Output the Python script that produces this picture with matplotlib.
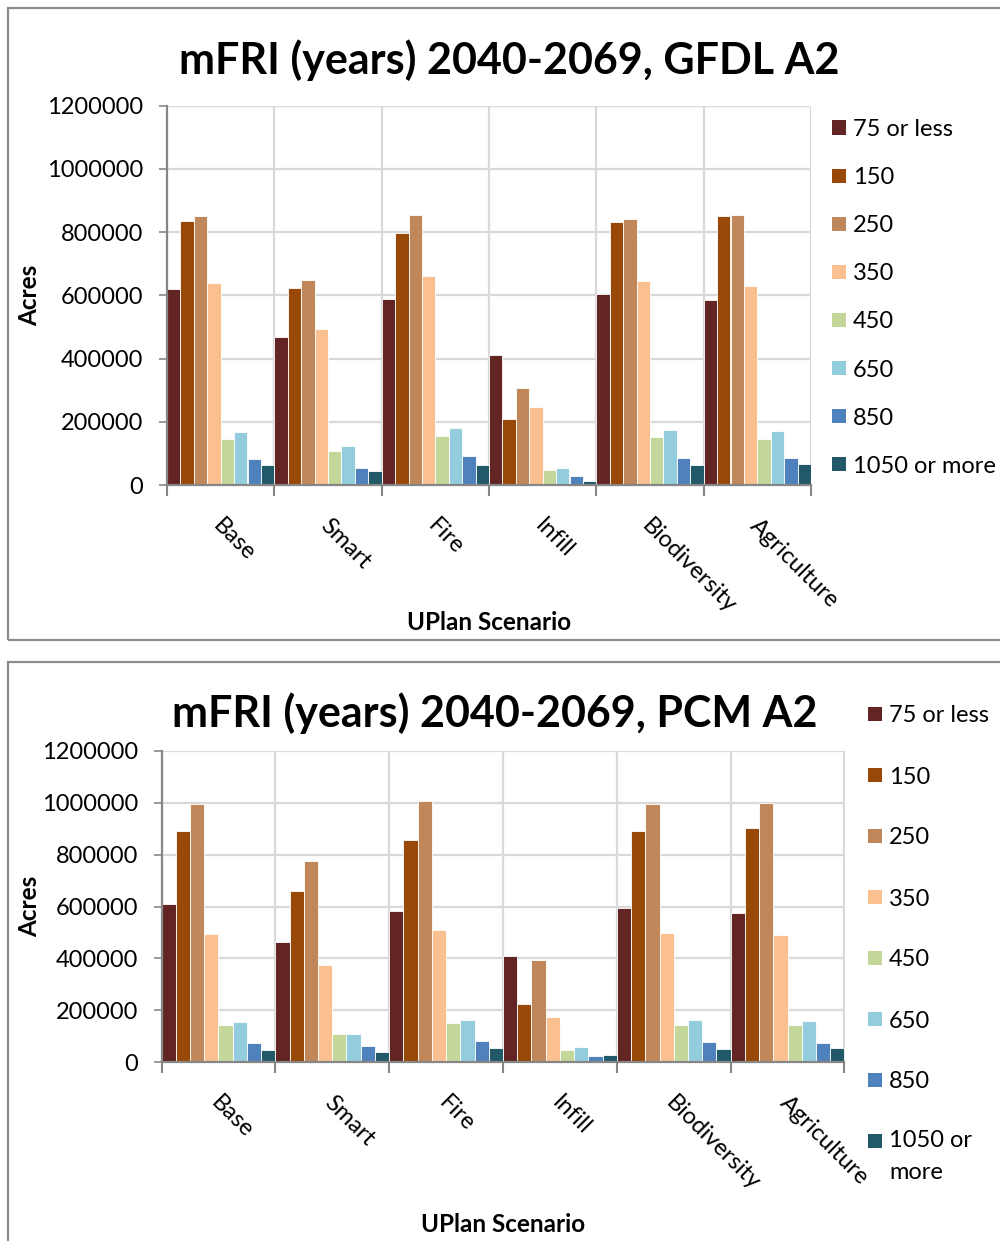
import matplotlib
matplotlib.use("Agg")
import matplotlib.pyplot as plt
from matplotlib.patches import Rectangle
import numpy as np

plt.rcParams['font.family'] = ['Lato', 'DejaVu Sans']

scenarios = ["Base", "Smart", "Fire", "Infill", "Biodiversity", "Agriculture"]
series_names = ["75 or less", "150", "250", "350", "450", "650", "850", "1050 or more"]
series_names_wrapped = ["75 or less", "150", "250", "350", "450", "650", "850", "1050 or\nmore"]
colors = ['#632523', '#984807', '#C0885A', '#FAC090', '#C4D79B', '#93CDDD', '#4F81BD', '#215968']

# GFDL A2 (acres)
gfdl_75 = [619000, 469600, 589000, 411000, 603000, 585000]
gfdl_150 = [834000, 622000, 796000, 207600, 833000, 852000]
gfdl_250 = [851000, 647700, 854000, 307400, 842600, 855000]
gfdl_350 = [639000, 495000, 661000, 248000, 645500, 629600]
gfdl_450 = [147000, 109000, 155800, 48700, 152600, 146000]
gfdl_650 = [167500, 123000, 179000, 54000, 174000, 171700]
gfdl_850 = [83600, 54000, 91200, 28600, 86800, 85900]
gfdl_1050 = [62600, 43500, 62600, 12700, 63600, 65800]

# PCM A2 (acres)
pcm_75 = [610500, 464000, 581000, 408700, 593800, 574600]
pcm_150 = [889500, 660700, 854800, 223600, 889500, 902300]
pcm_250 = [993600, 776300, 1007700, 394600, 993600, 1000000]
pcm_350 = [494900, 374000, 507700, 173500, 498700, 489700]
pcm_450 = [142700, 108000, 150400, 46300, 144000, 144000]
pcm_650 = [156800, 108000, 163200, 60400, 162000, 158100]
pcm_850 = [74600, 63000, 82300, 24400, 78400, 75800]
pcm_1050 = [46300, 38600, 54000, 27000, 51400, 54000]

yticks = [0, 200000, 400000, 600000, 800000, 1000000, 1200000]

gfdl = [gfdl_75, gfdl_150, gfdl_250, gfdl_350, gfdl_450, gfdl_650, gfdl_850, gfdl_1050]
pcm = [pcm_75, pcm_150, pcm_250, pcm_350, pcm_450, pcm_650, pcm_850, pcm_1050]

W, H = 1000, 1241
fig = plt.figure(figsize=(W / 100, H / 100), dpi=100)
fig.patch.set_facecolor('white')


def fx(px):
    return px / W


def fy(py):
    return 1 - py / H


# panel borders
for (x0, y0, x1, y1) in [(8, 8, 1010, 640), (8, 662, 1010, 1260)]:
    fig.patches.append(Rectangle((fx(x0), fy(y1)), fx(x1 - x0), (y1 - y0) / H,
                                 transform=fig.transFigure, fill=False,
                                 edgecolor='#8C8C8C', linewidth=1.6, zorder=0))

GRID = '#D9D9D9'
AX = '#868686'


def draw_panel(box, data, title, title_xy, xlabel_xy, ylabel_xy, legend, tick_off):
    x0, y0, x1, y1 = box
    ax = fig.add_axes([fx(x0), fy(y1), fx(x1 - x0), (y1 - y0) / H])
    n = len(data)
    width = 1.0 / n
    xs = np.arange(len(scenarios))
    for i, vals in enumerate(data):
        ax.bar(xs - 0.5 + (i + 0.5) * width, vals, width=width, color=colors[i],
               edgecolor='white', linewidth=0.6, zorder=3)
    ax.set_xlim(-0.5, len(scenarios) - 0.5)
    ax.set_ylim(0, 1200000)
    ax.set_yticks(yticks)
    ax.set_yticklabels([str(v) for v in yticks], fontsize=17)
    ax.tick_params(axis='y', length=6, color=AX, width=1.2, pad=11)
    for v in yticks[1:]:
        ax.axhline(v, color=GRID, lw=1.6, zorder=1)
    bounds = np.arange(-0.5, len(scenarios) + 0.5, 1.0)
    for b in bounds[1:]:
        ax.axvline(b, color=GRID, lw=1.6, zorder=1)
    ax.set_xticks(bounds)
    ax.set_xticklabels([])
    ax.tick_params(axis='x', length=8, color=AX, width=1.5)
    for s in ['top', 'right']:
        ax.spines[s].set_visible(False)
    for s in ['left', 'bottom']:
        ax.spines[s].set_color(AX)
        ax.spines[s].set_linewidth(1.6)
        ax.spines[s].set_zorder(4)
    for i, lab in enumerate(scenarios):
        ax.text(i + 0.03, tick_off, lab, transform=ax.get_xaxis_transform(),
                rotation=-45, rotation_mode='anchor', ha='left', va='top',
                fontsize=17)
    fig.text(fx(title_xy[0]), fy(title_xy[1]), title, ha='center', va='center',
             fontsize=31, fontweight='bold')
    fig.text(fx(xlabel_xy[0]), fy(xlabel_xy[1]), "UPlan Scenario", ha='center',
             va='center', fontsize=17.5, fontweight='bold')
    fig.text(fx(ylabel_xy[0]), fy(ylabel_xy[1]), "Acres", ha='center',
             va='center', fontsize=17.5, fontweight='bold', rotation=90)
    # legend
    lx, ly0, step, labels = legend
    for i, lab in enumerate(labels):
        cy = ly0 + i * step
        fig.patches.append(Rectangle((fx(lx), fy(cy + 7)), fx(14), 14 / H,
                                     transform=fig.transFigure, facecolor=colors[i],
                                     edgecolor='none'))
        if '\n' in lab:
            fig.text(fx(lx + 21), fy(cy - 11), lab, ha='left', va='top',
                     fontsize=17, linespacing=1.65)
        else:
            fig.text(fx(lx + 21), fy(cy), lab, ha='left', va='center_baseline',
                     fontsize=17)
    return ax


draw_panel((167, 105.7, 811, 485), gfdl, "mFRI (years) 2040-2069, GFDL A2",
           (509, 60), (489, 622), (30, 295),
           (832, 127.5, 48.1, series_names), -0.08)

draw_panel((161.5, 750.7, 844.5, 1062.3), pcm, "mFRI (years) 2040-2069, PCM A2",
           (495, 713), (503, 1225), (30, 906),
           (868, 714, 61, series_names_wrapped), -0.095)

fig.savefig("out.png", dpi=100, facecolor='white')
